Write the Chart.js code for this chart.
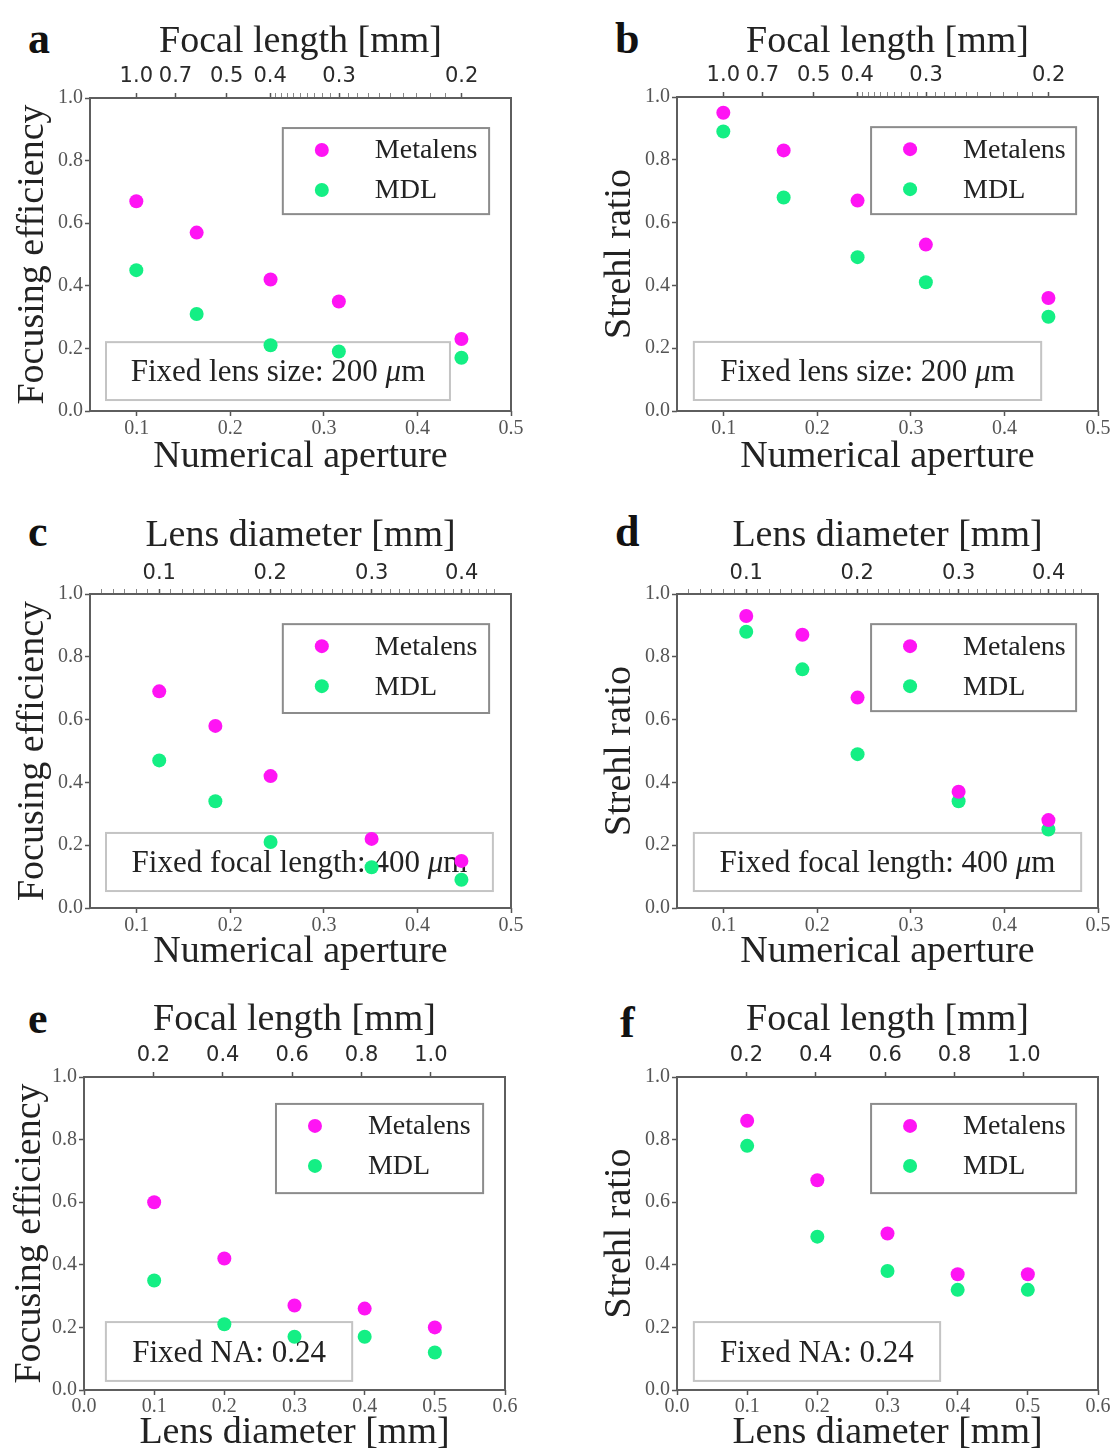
<!DOCTYPE html>
<html>
<head>
<meta charset="utf-8">
<script src="https://cdn.jsdelivr.net/npm/chart.js@4.4.0/dist/chart.umd.min.js"></script>
<style>
  body { margin: 0; background: #fff; width: 1115px; height: 1456px; position: relative; overflow: hidden; }
  canvas { position: absolute; }
  .letter { position: absolute; font: bold 44px "Liberation Serif", serif; line-height: 44px; color: #111; }
</style>
</head>
<body>
<div class="letter" style="left:28px;top:17px">a</div>
<div class="letter" style="left:615px;top:17px">b</div>
<div class="letter" style="left:28px;top:510px">c</div>
<div class="letter" style="left:615px;top:510px">d</div>
<div class="letter" style="left:28px;top:997px">e</div>
<div class="letter" style="left:620px;top:1001px">f</div>

<canvas id="pa" width="557" height="485" style="left:0;top:0"></canvas>
<canvas id="pb" width="528" height="485" style="left:587px;top:0"></canvas>
<canvas id="pc" width="557" height="490" style="left:0;top:485px"></canvas>
<canvas id="pd" width="528" height="490" style="left:587px;top:485px"></canvas>
<canvas id="pe" width="557" height="481" style="left:0;top:975px"></canvas>
<canvas id="pf" width="528" height="481" style="left:587px;top:975px"></canvas>

<script>
// ---- data ----
const seriesNames = ['Metalens', 'MDL'];

// a, b: fixed lens size 200 um, NA varied
const naAB = [0.0995, 0.164, 0.243, 0.316, 0.447];
const effA_metalens = [0.67, 0.57, 0.42, 0.35, 0.23];
const effA_mdl = [0.45, 0.31, 0.21, 0.19, 0.17];
const strehlB_metalens = [0.95, 0.83, 0.67, 0.53, 0.36];
const strehlB_mdl = [0.89, 0.68, 0.49, 0.41, 0.30];

// c, d: fixed focal length 400 um, NA varied
const naCD = [0.124, 0.184, 0.243, 0.351, 0.447];
const effC_metalens = [0.69, 0.58, 0.42, 0.22, 0.15];
const effC_mdl = [0.47, 0.34, 0.21, 0.13, 0.09];
const strehlD_metalens = [0.93, 0.87, 0.67, 0.37, 0.28];
const strehlD_mdl = [0.88, 0.76, 0.49, 0.34, 0.25];

// e, f: fixed NA 0.24, lens diameter varied
const diamEF = [0.1, 0.2, 0.3, 0.4, 0.5];
const effE_metalens = [0.60, 0.42, 0.27, 0.26, 0.20];
const effE_mdl = [0.35, 0.21, 0.17, 0.17, 0.12];
const strehlF_metalens = [0.86, 0.67, 0.50, 0.37, 0.37];
const strehlF_mdl = [0.78, 0.49, 0.38, 0.32, 0.32];

// tick labels
const yTicks = [0.0, 0.2, 0.4, 0.6, 0.8, 1.0];
const naTicks = [0.1, 0.2, 0.3, 0.4, 0.5];
const diamTicks = [0.0, 0.1, 0.2, 0.3, 0.4, 0.5, 0.6];
const focalTicksAB = [1.0, 0.7, 0.5, 0.4, 0.3, 0.2];
const focalMinorAB = [0.21, 0.22, 0.23, 0.24, 0.25, 0.26, 0.27, 0.28, 0.29, 0.31, 0.32, 0.33, 0.34, 0.35, 0.36, 0.37, 0.38, 0.39];
const diamTicksCD = [0.1, 0.2, 0.3, 0.4];
const diamMinorCD = [0.05, 0.06, 0.07, 0.08, 0.09, 0.11, 0.12, 0.13, 0.14, 0.15, 0.16, 0.17, 0.18, 0.19,
  0.21, 0.22, 0.23, 0.24, 0.25, 0.26, 0.27, 0.28, 0.29, 0.31, 0.32, 0.33, 0.34, 0.35, 0.36, 0.37, 0.38, 0.39,
  0.41, 0.42, 0.43, 0.44];
const focalTicksEF = [0.2, 0.4, 0.6, 0.8, 1.0];

const fixedDiameter = 0.2;  // mm
const fixedFocal = 0.4;     // mm
const fixedNA = 0.24;

// conversions for the secondary (top) axes
const naFromFocal = f => Math.sin(Math.atan(fixedDiameter / (2 * f)));
const naFromDiam = d => Math.sin(Math.atan(d / (2 * fixedFocal)));
const diamFromFocal = f => 2 * f * Math.tan(Math.asin(fixedNA));

const colors = ['#ff14f4', '#14ef84'];
const serif = 'Liberation Serif';

function fmt(v) { return v.toFixed(1); }

// legend + annotation boxes, positions in axes fractions
const boxesPlugin = {
  id: 'boxes',
  beforeDatasetsDraw(chart, args, opts) {
    const a = chart.chartArea, ctx = chart.ctx;
    const b = opts.note;
    const x1 = a.left + b[0] * (a.right - a.left), x2 = a.left + b[2] * (a.right - a.left);
    const y1 = a.top + b[1] * (a.bottom - a.top), y2 = a.top + b[3] * (a.bottom - a.top);
    ctx.save();
    ctx.fillStyle = '#fff';
    ctx.fillRect(x1, y1, x2 - x1, y2 - y1);
    ctx.strokeStyle = '#c4c4c4';
    ctx.lineWidth = 2;
    ctx.strokeRect(x1, y1, x2 - x1, y2 - y1);
    // text with italic mu
    const parts = opts.noteText.split('μ');
    const fn = '31px "' + serif + '"', fi = 'italic 31px "' + serif + '"';
    ctx.font = fn;
    let w = ctx.measureText(parts[0]).width + ctx.measureText(parts[1] || '').width;
    if (parts.length > 1) { ctx.font = fi; w += ctx.measureText('μ').width; }
    let x = (x1 + x2) / 2 - w / 2;
    const y = (y1 + y2) / 2 + 2;
    ctx.fillStyle = '#222';
    ctx.textBaseline = 'middle';
    ctx.textAlign = 'left';
    ctx.font = fn;
    ctx.fillText(parts[0], x, y);
    x += ctx.measureText(parts[0]).width;
    if (parts.length > 1) {
      ctx.font = fi;
      ctx.fillText('μ', x, y);
      x += ctx.measureText('μ').width;
      ctx.font = fn;
      ctx.fillText(parts[1], x, y);
    }
    ctx.restore();
  },
  afterDatasetsDraw(chart, args, opts) {
    const a = chart.chartArea, ctx = chart.ctx;
    const b = opts.legend;
    const x1 = a.left + b[0] * (a.right - a.left), x2 = a.left + b[2] * (a.right - a.left);
    const y1 = a.top + b[1] * (a.bottom - a.top), y2 = a.top + b[3] * (a.bottom - a.top);
    ctx.save();
    ctx.fillStyle = '#fff';
    ctx.fillRect(x1, y1, x2 - x1, y2 - y1);
    ctx.strokeStyle = '#8c8c8c';
    ctx.lineWidth = 2;
    ctx.strokeRect(x1, y1, x2 - x1, y2 - y1);
    ctx.font = '28px "' + serif + '"';
    ctx.textBaseline = 'middle';
    ctx.textAlign = 'left';
    chart.data.datasets.forEach((ds, i) => {
      const cy = y1 + 22 + i * 40;
      ctx.fillStyle = ds.backgroundColor;
      ctx.beginPath();
      ctx.arc(x1 + 39, cy, 7, 0, Math.PI * 2);
      ctx.fill();
      ctx.fillStyle = '#222';
      ctx.fillText(ds.label, x1 + 92, cy + 1);
    });
    ctx.restore();
  },
  afterDraw(chart) {
    const a = chart.chartArea, ctx = chart.ctx;
    ctx.save();
    ctx.strokeStyle = '#5e5e5e';
    ctx.lineWidth = 2;
    ctx.strokeRect(a.left, a.top, a.right - a.left, a.bottom - a.top);
    ctx.restore();
  }
};

function tickGrid() {
  return {
    drawOnChartArea: false,
    tickLength: 5,
    tickWidth: c => (c.tick && c.tick.minor ? 1 : 1.5),
    tickColor: c => (c.tick && c.tick.minor ? '#888' : '#555')
  };
}

function makePanel(p) {
  const ctx = document.getElementById(p.id).getContext('2d');
  return new Chart(ctx, {
    type: 'scatter',
    data: {
      datasets: p.ys.map((ys, i) => ({
        label: seriesNames[i],
        data: p.xs.map((x, j) => ({ x: x, y: ys[j] })),
        backgroundColor: colors[i],
        borderWidth: 0,
        pointRadius: 7,
        clip: false
      }))
    },
    plugins: [boxesPlugin],
    options: {
      responsive: false,
      animation: false,
      events: [],
      layout: { padding: { left: 0, top: 0, right: p.m.right, bottom: 0 } },
      plugins: {
        legend: { display: false },
        tooltip: { enabled: false },
        boxes: { legend: p.legendBox, note: p.noteBox, noteText: p.note }
      },
      scales: {
        x: {
          type: 'linear',
          position: 'bottom',
          min: p.xMin, max: p.xMax,
          afterBuildTicks: s => { s.ticks = p.xTicks.map(v => ({ value: v })); },
          afterFit: s => { s.height = p.m.bottom; },
          grid: tickGrid(),
          border: { display: false },
          ticks: { callback: v => fmt(v), color: '#555', padding: p.pad.xTick, maxRotation: 0, autoSkip: false,
                   font: { family: serif, size: 20 } },
          title: { display: true, text: p.xTitle, color: '#222', font: { family: serif, size: 38 },
                   padding: { top: 0, bottom: p.pad.xTitle } }
        },
        x2: {
          type: 'linear',
          position: 'top',
          min: p.xMin, max: p.xMax,
          afterBuildTicks: s => {
            const major = p.topTicks.map(v => ({ value: p.topToX(v), lbl: fmt(v) }));
            const minor = p.topMinor.map(v => ({ value: p.topToX(v), lbl: '', minor: true }));
            s.ticks = major.concat(minor);
          },
          afterFit: s => { s.height = p.m.top; },
          grid: tickGrid(),
          border: { display: false },
          ticks: { callback: (v, i, t) => t[i].lbl, color: '#2a2a2a', padding: p.pad.topTick, maxRotation: 0,
                   autoSkip: false, font: { family: 'DejaVu Sans', size: 21 } },
          title: { display: true, text: p.topTitle, color: '#222', font: { family: serif, size: 38 },
                   padding: { top: p.pad.topTitle, bottom: 0 } }
        },
        y: {
          type: 'linear',
          position: 'left',
          min: 0, max: 1,
          afterBuildTicks: s => { s.ticks = yTicks.map(v => ({ value: v })); },
          afterFit: s => { s.width = p.m.left; },
          grid: tickGrid(),
          border: { display: false },
          ticks: { callback: v => fmt(v), color: '#555', padding: 2, font: { family: serif, size: 20 } },
          title: { display: true, text: p.yTitle, color: '#222', font: { family: serif, size: 38 },
                   padding: { top: p.pad.yTitle, bottom: 0 } }
        }
      }
    }
  });
}

makePanel({
  id: 'pa', xs: naAB, ys: [effA_metalens, effA_mdl],
  xMin: 0.05, xMax: 0.5, xTicks: naTicks, xTitle: 'Numerical aperture',
  topTitle: 'Focal length [mm]', topTicks: focalTicksAB, topMinor: focalMinorAB, topToX: naFromFocal,
  yTitle: 'Focusing efficiency', note: 'Fixed lens size: 200 μm',
  legendBox: [0.458, 0.096, 0.948, 0.371], noteBox: [0.038, 0.78, 0.855, 0.965],
  m: { left: 90, top: 98, right: 46, bottom: 74 },
  pad: { xTick: 1, xTitle: 5, topTick: 4, topTitle: 19, yTitle: 10 }
});
makePanel({
  id: 'pb', xs: naAB, ys: [strehlB_metalens, strehlB_mdl],
  xMin: 0.05, xMax: 0.5, xTicks: naTicks, xTitle: 'Numerical aperture',
  topTitle: 'Focal length [mm]', topTicks: focalTicksAB, topMinor: focalMinorAB, topToX: naFromFocal,
  yTitle: 'Strehl ratio', note: 'Fixed lens size: 200 μm',
  legendBox: [0.461, 0.096, 0.948, 0.373], noteBox: [0.04, 0.78, 0.865, 0.965],
  m: { left: 90, top: 97, right: 17, bottom: 74 },
  pad: { xTick: 1, xTitle: 5, topTick: 4, topTitle: 19, yTitle: 10 }
});
makePanel({
  id: 'pc', xs: naCD, ys: [effC_metalens, effC_mdl],
  xMin: 0.05, xMax: 0.5, xTicks: naTicks, xTitle: 'Numerical aperture',
  topTitle: 'Lens diameter [mm]', topTicks: diamTicksCD, topMinor: diamMinorCD, topToX: naFromDiam,
  yTitle: 'Focusing efficiency', note: 'Fixed focal length: 400 μm',
  legendBox: [0.458, 0.096, 0.948, 0.379], noteBox: [0.038, 0.761, 0.957, 0.946],
  m: { left: 90, top: 109, right: 46, bottom: 67 },
  pad: { xTick: 1, xTitle: 0, topTick: 3, topTitle: 28, yTitle: 10 }
});
makePanel({
  id: 'pd', xs: naCD, ys: [strehlD_metalens, strehlD_mdl],
  xMin: 0.05, xMax: 0.5, xTicks: naTicks, xTitle: 'Numerical aperture',
  topTitle: 'Lens diameter [mm]', topTicks: diamTicksCD, topMinor: diamMinorCD, topToX: naFromDiam,
  yTitle: 'Strehl ratio', note: 'Fixed focal length: 400 μm',
  legendBox: [0.461, 0.096, 0.948, 0.373], noteBox: [0.04, 0.761, 0.96, 0.946],
  m: { left: 90, top: 109, right: 17, bottom: 67 },
  pad: { xTick: 1, xTitle: 0, topTick: 3, topTitle: 28, yTitle: 10 }
});
makePanel({
  id: 'pe', xs: diamEF, ys: [effE_metalens, effE_mdl],
  xMin: 0, xMax: 0.6, xTicks: diamTicks, xTitle: 'Lens diameter [mm]',
  topTitle: 'Focal length [mm]', topTicks: focalTicksEF, topMinor: [], topToX: diamFromFocal,
  yTitle: 'Focusing efficiency', note: 'Fixed NA: 0.24',
  legendBox: [0.456, 0.086, 0.948, 0.371], noteBox: [0.052, 0.783, 0.637, 0.971],
  m: { left: 84, top: 102, right: 52, bottom: 66 },
  pad: { xTick: 0, xTitle: 0, topTick: 4, topTitle: 22, yTitle: 7 }
});
makePanel({
  id: 'pf', xs: diamEF, ys: [strehlF_metalens, strehlF_mdl],
  xMin: 0, xMax: 0.6, xTicks: diamTicks, xTitle: 'Lens diameter [mm]',
  topTitle: 'Focal length [mm]', topTicks: focalTicksEF, topMinor: [], topToX: diamFromFocal,
  yTitle: 'Strehl ratio', note: 'Fixed NA: 0.24',
  legendBox: [0.461, 0.086, 0.948, 0.371], noteBox: [0.04, 0.783, 0.625, 0.971],
  m: { left: 90, top: 102, right: 17, bottom: 66 },
  pad: { xTick: 0, xTitle: 0, topTick: 4, topTitle: 22, yTitle: 10 }
});
</script>
</body>
</html>
